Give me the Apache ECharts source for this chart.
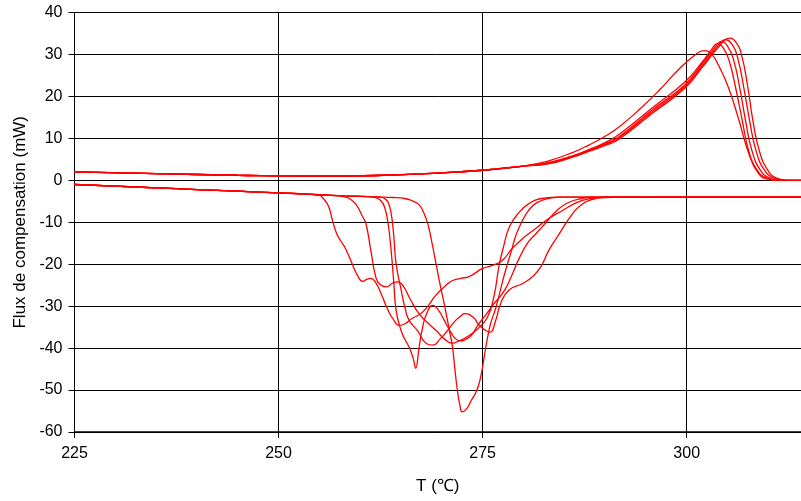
<!DOCTYPE html>
<html><head><meta charset="utf-8">
<script src="https://cdn.jsdelivr.net/npm/echarts@6/dist/echarts.min.js"></script>
<style>html,body{margin:0;padding:0;background:#fff}#c{width:801px;height:501px}</style>
</head><body><div id="c"></div>
<script>
// Axis ticks
const xTicks = [225, 250, 275, 300];
const yTicks = [-60, -50, -40, -30, -20, -10, 0, 10, 20, 30, 40];

// Shared baselines [T (°C), flux (mW)]
const upperBase = [[225,2.0],[235,1.6],[245,1.2],[255,1.0],[262,1.15],[268,1.6],[275,2.4],[280,3.4]];
const lowerBase = [[225,-1.0],[230,-1.4],[235,-1.8],[240,-2.2],[245,-2.6],[250,-3.0],[253,-3.25]];

// Upper (endothermic) curves
const heat1 = [[283,4.6],[286,6.6],[288,8.4],[290,10.5],[291.7,12.7],[294.1,16.7],[296.6,21.4],[299.1,26.6],[301.1,30.0],[302.1,30.9],[303,30.2],[304,27],[305.1,22.2],[306.4,14.3],[307.6,6.4],[308.8,1.6],[310,0.3],[312,0],[314,0]];
const heat2 = [[283,4.2],[286,5.8],[288,7.3],[290,9.0],[291.7,10.9],[295.8,17.3],[299.8,23.5],[301.9,28.2],[303,31.1],[303.8,32.6],[304.5,31.5],[305.2,28.5],[306,22],[306.8,14.3],[307.6,7],[308.6,2.5],[309.8,0.5],[311,0],[314,0]];
const heat3 = [[283,4.1],[286,5.7],[288,7.1],[290,8.7],[291.7,10.4],[295.8,16.8],[299.8,22.8],[301.9,27.8],[303.2,31],[304.3,33.1],[305,32],[305.7,29],[306.5,22],[307.2,14.3],[308,7],[309,2.5],[310.2,0.5],[311.5,0],[314,0]];
const heat4 = [[283,4.0],[286,5.6],[288,7.0],[290,8.5],[291.7,10.1],[295.8,16.4],[299.8,22.4],[301.9,27.3],[303.5,31.2],[304.8,33.5],[305.5,32.5],[306.2,29.5],[307,22],[307.7,14.3],[308.5,7],[309.5,2.5],[310.7,0.5],[312,0],[314,0]];
const heat5 = [[283,3.9],[286,5.5],[288,6.9],[290,8.3],[291.7,9.8],[295.8,16.0],[299.8,22.0],[301.9,26.9],[303.8,31.5],[305.3,33.9],[306,33],[306.7,30],[307.5,22],[308.1,14.3],[308.9,7],[309.9,2.5],[311,0.5],[312.3,0],[314,0]];

// Lower (exothermic) curves
const coolA = [[255,-3.6],[255.5,-4.4],[255.9,-5.4],[256.2,-6.6],[256.6,-9.5],[257.1,-12.6],[257.7,-14.7],[258.1,-15.9],[258.6,-18],[259.1,-20.3],[259.7,-22.8],[260.3,-24.1],[260.8,-23.6],[261.3,-23.4],[261.9,-24.4],[262.6,-27.2],[263.3,-30.5],[264,-33],[264.8,-34.6],[265.5,-34.2],[266.3,-33.0],[267.4,-31.8],[268.3,-30],[269.1,-27.8],[270.3,-25.4],[271.2,-24],[272.3,-23.4],[273.4,-22.9],[275,-21],[276.2,-20.3],[277.4,-19.1],[278.6,-16.3],[279.9,-13.9],[281.5,-11.5],[283.1,-9.1],[284.8,-7.2],[286.5,-5.3],[288,-4.4],[290,-4.05],[300,-4.0],[314,-4.0]];
const coolB = [[255,-3.45],[257,-3.65],[258.2,-4.0],[258.7,-4.4],[259.5,-5.8],[260.3,-8.7],[260.7,-10.3],[261.3,-16.7],[261.9,-23],[262.4,-24.8],[263.2,-25.4],[263.9,-24.6],[264.6,-24.2],[265.2,-25],[266.2,-28.6],[267.2,-31.8],[268.3,-34],[269.4,-36],[270.3,-37.8],[271.3,-38.8],[272.1,-38.3],[273.1,-37.3],[274.4,-35.4],[275.6,-32.6],[276.4,-27.5],[277,-20.5],[277.6,-15.5],[278.3,-11],[279.5,-7.6],[280.7,-5.5],[282,-4.4],[284,-4.0],[314,-4.0]];
const coolC = [[255,-3.45],[258,-3.7],[261,-3.9],[262,-4.2],[262.6,-5.0],[263,-6.5],[263.4,-10],[263.8,-17],[264.1,-24],[264.4,-31],[265,-35.8],[265.5,-38],[266,-39.8],[266.5,-42.5],[266.8,-44.8],[267.2,-40],[267.6,-35.5],[268.1,-32],[268.9,-29.8],[269.6,-31],[270.3,-33.4],[271.1,-36.2],[271.7,-37.8],[272.3,-38.3],[273,-37.8],[273.6,-37],[274.4,-34.6],[275.4,-32],[276.4,-29.4],[277.6,-26.5],[278.5,-23],[279.5,-18.5],[280.5,-15],[281.5,-12.8],[282.8,-10],[284.2,-7],[285.5,-5.3],[287,-4.4],[289,-4.0],[314,-4.0]];
const coolD = [[255,-3.45],[258,-3.7],[261,-3.9],[262.5,-4.0],[263,-4.4],[263.4,-5.2],[263.8,-8],[264.1,-13],[264.4,-19.9],[265,-26],[265.5,-30.5],[266,-33.4],[267,-35.8],[268.1,-38.9],[268.9,-39.3],[269.8,-37.8],[270.7,-35.8],[271.5,-33.8],[272.3,-32.4],[272.8,-31.8],[273.8,-32.6],[274.6,-34.6],[275.4,-35.8],[275.9,-36.2],[276.6,-33.4],[277.2,-29.4],[278.2,-26.2],[279.9,-24.6],[281.1,-23],[282.1,-20.7],[283.1,-16.7],[284.4,-12.7],[285.6,-9.1],[286.8,-6.3],[288.4,-4.6],[290,-4.1],[292,-4.0],[314,-4.0]];
const coolE = [[255,-3.45],[258,-3.7],[262,-3.95],[264,-4.1],[265.6,-4.4],[266.4,-4.9],[267.2,-5.8],[267.8,-7.8],[268.3,-10.5],[268.8,-15],[269.3,-20],[269.8,-25],[270.3,-29.5],[270.9,-35.5],[271.3,-39.7],[271.6,-45],[271.9,-50],[272.2,-53.5],[272.5,-55.2],[273.1,-54.3],[273.6,-52.5],[274.3,-50],[274.8,-46.5],[275.2,-42],[275.6,-37.5],[276,-34],[276.6,-30.5],[277.2,-26],[277.8,-21.5],[278.5,-17],[279.1,-13],[279.9,-9.5],[280.7,-7],[281.5,-5.5],[282.8,-4.4],[284.5,-4.0],[314,-4.0]];

const curves = [
  upperBase.concat(heat1), upperBase.concat(heat2), upperBase.concat(heat3),
  upperBase.concat(heat4), upperBase.concat(heat5),
  lowerBase.concat(coolA), lowerBase.concat(coolB), lowerBase.concat(coolC),
  lowerBase.concat(coolD), lowerBase.concat(coolE)
];

const FONT = 'Liberation Sans, Arial, sans-serif';
const chart = echarts.init(document.getElementById('c'), null, {renderer: 'canvas'});
chart.setOption({
  animation: false,
  backgroundColor: '#fff',
  grid: {left: 74.5, top: 12.5, width: 727, height: 419.5, containLabel: false},
  xAxis: {
    type: 'value', min: xTicks[0], max: 314, interval: 25,
    name: 'T (\u2103)', nameLocation: 'middle', nameGap: 46,
    nameTextStyle: {fontSize: 17, color: '#000', fontFamily: FONT},
    axisLine: {show: true, onZero: false, lineStyle: {color: '#000', width: 1.5}},
    axisTick: {show: true, inside: false, length: 6, lineStyle: {color: '#000'}},
    axisLabel: {show: true, fontSize: 16, color: '#000', fontFamily: FONT, margin: 14, showMaxLabel: false,
      formatter: v => xTicks.includes(v) ? String(v) : ''},
    splitLine: {show: true, lineStyle: {color: '#000', width: 1}}
  },
  yAxis: {
    type: 'value', min: yTicks[0], max: yTicks[yTicks.length - 1], interval: 10,
    name: 'Flux de compensation (mW)', nameLocation: 'middle', nameGap: 44,
    nameTextStyle: {fontSize: 17, color: '#000', fontFamily: FONT},
    axisLine: {show: true, onZero: false, lineStyle: {color: '#000', width: 1}},
    axisTick: {show: true, inside: false, length: 6, lineStyle: {color: '#000'}},
    axisLabel: {show: true, fontSize: 16, color: '#000', fontFamily: FONT, margin: 12},
    splitLine: {show: true, lineStyle: {color: '#000', width: 1}}
  },
  series: curves.map(d => ({
    type: 'line', data: d, showSymbol: false, symbol: 'none',
    smooth: 0.5, clip: true,
    lineStyle: {color: '#ff0000', width: 1.3}
  }))
});
</script>
</body></html>
